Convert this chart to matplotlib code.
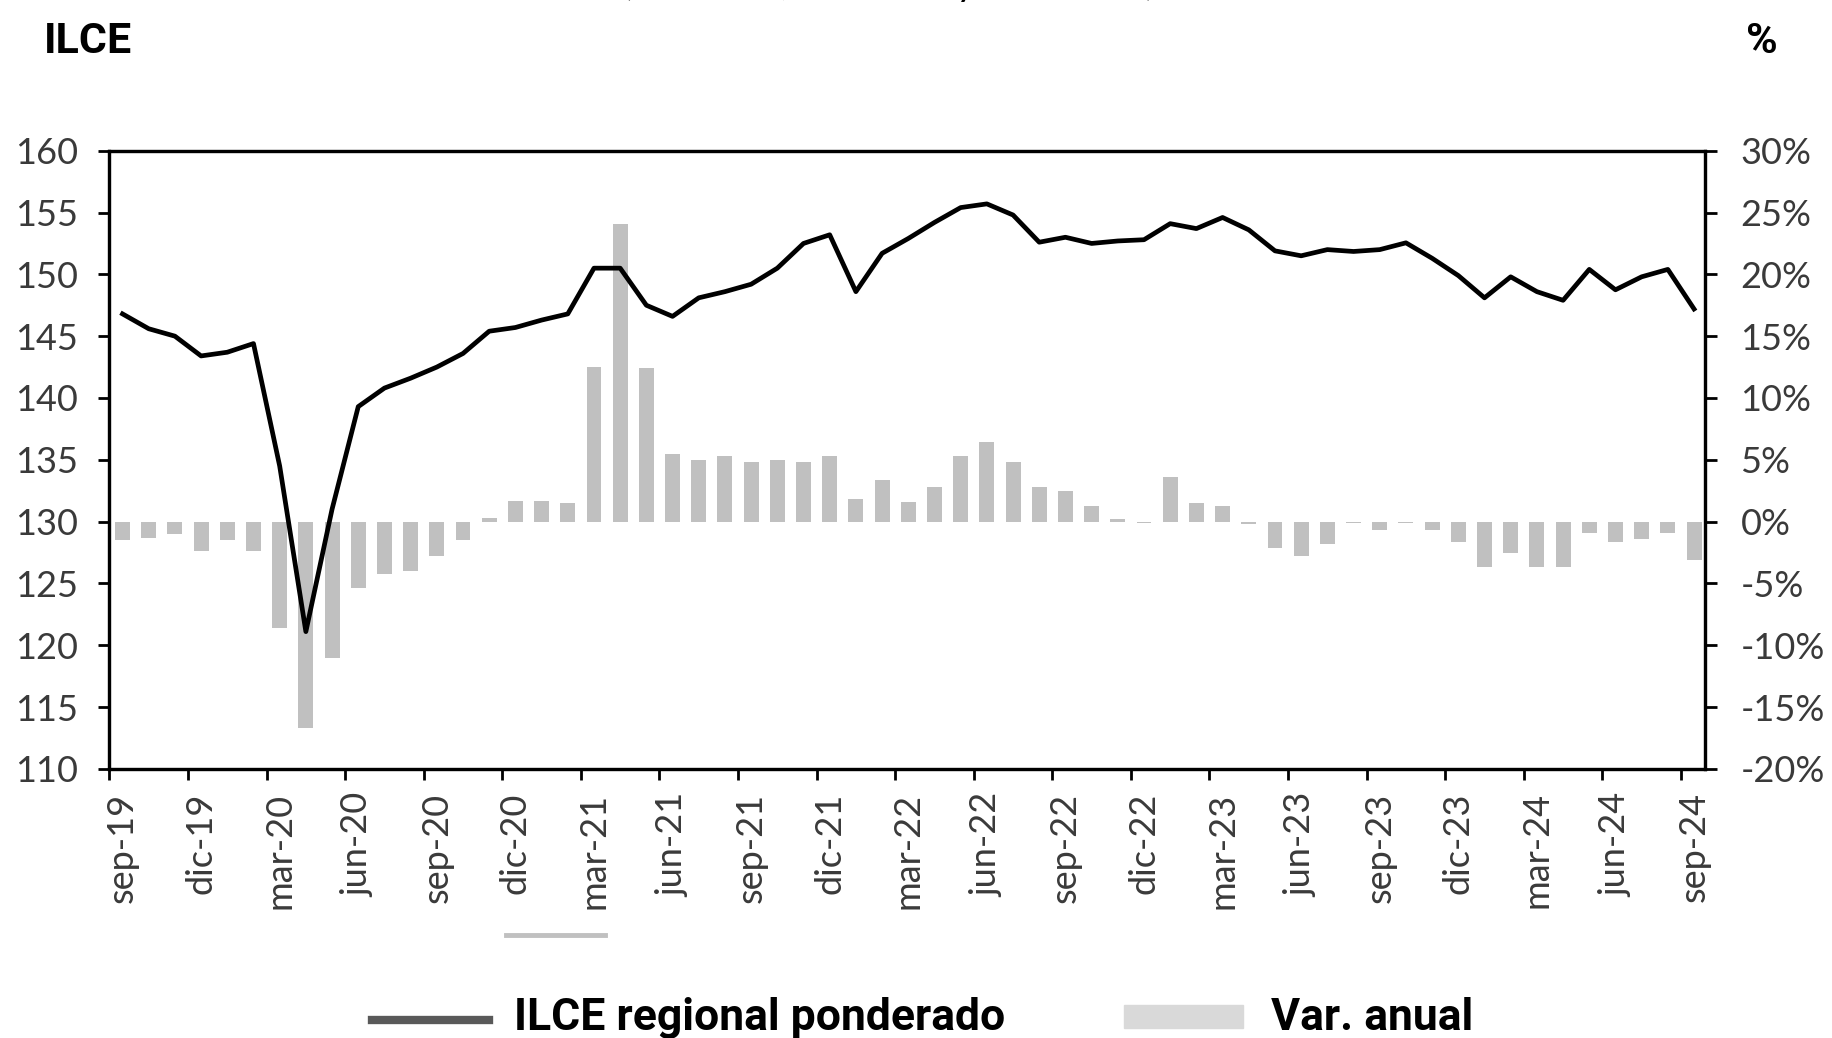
import numpy as np
import matplotlib
matplotlib.use('Agg')
import matplotlib.pyplot as plt
from matplotlib.lines import Line2D
from matplotlib.patches import Rectangle

# ILCE regional ponderado (indice) y variacion anual (%), sep-19 a sep-24
ilce = [146.8, 145.6, 145.0, 143.4, 143.7, 144.4, 134.5, 121.1, 131.0, 139.3,
        140.8, 141.6, 142.5, 143.6, 145.4, 145.7, 146.3, 146.8, 150.5, 150.5,
        147.5, 146.6, 148.1, 148.6, 149.2, 150.5, 152.5, 153.2, 148.6, 151.7,
        152.9, 154.2, 155.4, 155.7, 154.8, 152.6, 153.0, 152.5, 152.7, 152.8,
        154.1, 153.7, 154.6, 153.6, 151.9, 151.5, 152.0, 151.85, 152.0, 152.55,
        151.3, 149.9, 148.1, 149.8, 148.6, 147.9, 150.4, 148.75, 149.8, 150.4,
        147.2]
var_anual = [-1.5, -1.3, -1.0, -2.4, -1.5, -2.4, -8.6, -16.7, -11.0, -5.4,
             -4.2, -4.0, -2.8, -1.5, 0.3, 1.7, 1.7, 1.5, 12.5, 24.1,
             12.4, 5.5, 5.0, 5.3, 4.8, 5.0, 4.8, 5.3, 1.8, 3.4,
             1.6, 2.8, 5.3, 6.4, 4.8, 2.8, 2.5, 1.3, 0.2, -0.15,
             3.6, 1.5, 1.3, -0.2, -2.1, -2.8, -1.85, -0.15, -0.7, -0.15,
             -0.7, -1.65, -3.7, -2.55, -3.7, -3.7, -0.9, -1.65, -1.4, -0.9,
             -3.1]
tick_labels = ['sep-19', 'dic-19', 'mar-20', 'jun-20', 'sep-20', 'dic-20',
               'mar-21', 'jun-21', 'sep-21', 'dic-21', 'mar-22', 'jun-22',
               'sep-22', 'dic-22', 'mar-23', 'jun-23', 'sep-23', 'dic-23',
               'mar-24', 'jun-24', 'sep-24']

x = np.arange(len(ilce))
tick_font = dict(family=['Lato', 'DejaVu Sans'], weight='normal', size=26)
lab_color = '#3a3a3a'
bold_fam = ['Roboto', 'DejaVu Sans']

fig = plt.figure(figsize=(18.32, 10.38), dpi=100)
ax = fig.add_axes([0.0593, 0.2593, 0.8714, 0.5955])
ax2 = ax.twinx()

ax2.bar(x, var_anual, width=0.57, color='#c0c0c0', zorder=1)
ax.plot(x, ilce, color='black', lw=3.4, zorder=3)
ax.set_zorder(ax2.get_zorder() + 1)
ax.patch.set_visible(False)

ax.set_xlim(-0.53, 60.42)
ax.set_ylim(110, 160)
ax2.set_ylim(-20, 30)

ax.set_yticks(np.arange(110, 161, 5))
ax.set_yticklabels([str(v) for v in range(110, 161, 5)], fontdict=tick_font, color=lab_color)
ax2.set_yticks(np.arange(-20, 31, 5))
ax2.set_yticklabels([f'{v}%' for v in range(-20, 31, 5)], fontdict=tick_font, color=lab_color)

ax.set_xticks(np.arange(-0.5, 60, 3))
ax.set_xticklabels([])
ax.set_xticks(np.arange(0, 61, 3), minor=True)
ax.set_xticklabels(tick_labels, minor=True, rotation=90, fontdict=tick_font, color=lab_color)

ax.tick_params(axis='y', length=8, width=2, pad=14)
ax2.tick_params(axis='y', length=8.5, width=2, pad=17)
ax.tick_params(axis='x', which='major', length=8, width=2)
ax.tick_params(axis='x', which='minor', length=0, pad=17)

for a in (ax, ax2):
    for s in a.spines.values():
        s.set_linewidth(2.3)

fig.text(0.024, 0.949, 'ILCE', fontsize=31, fontweight='bold', family=bold_fam)
fig.text(0.953, 0.949, '%', fontsize=31, fontweight='bold', family=bold_fam)
# subtitle, cut off by the top edge as in the source
fig.text(0.485, 1 + 5 / 1038, '(Santa Fe, Córdoba y Mendoza)', fontsize=28, ha='center',
         va='baseline', family=['Lato', 'DejaVu Sans'])

# remnant of original legend (cropped)
fig.add_artist(Line2D([506 / 1832, 605 / 1832], [1 - 935 / 1038] * 2, color='#c0c0c0', lw=3.5))

# legend
fig.add_artist(Line2D([372 / 1832, 489 / 1832], [1 - 1020 / 1038] * 2, color='#595959', lw=6))
fig.text(514 / 1832, 1 - 1030 / 1038, 'ILCE regional ponderado', fontsize=32, fontweight='bold',
         family=bold_fam, va='baseline')
fig.add_artist(Rectangle((1124 / 1832, 1 - 1028 / 1038), 119 / 1832, 23 / 1038,
                         transform=fig.transFigure, color='#d9d9d9'))
fig.text(1271 / 1832, 1 - 1030 / 1038, 'Var. anual', fontsize=32, fontweight='bold',
         family=bold_fam, va='baseline')

fig.savefig('out.png', dpi=100)
